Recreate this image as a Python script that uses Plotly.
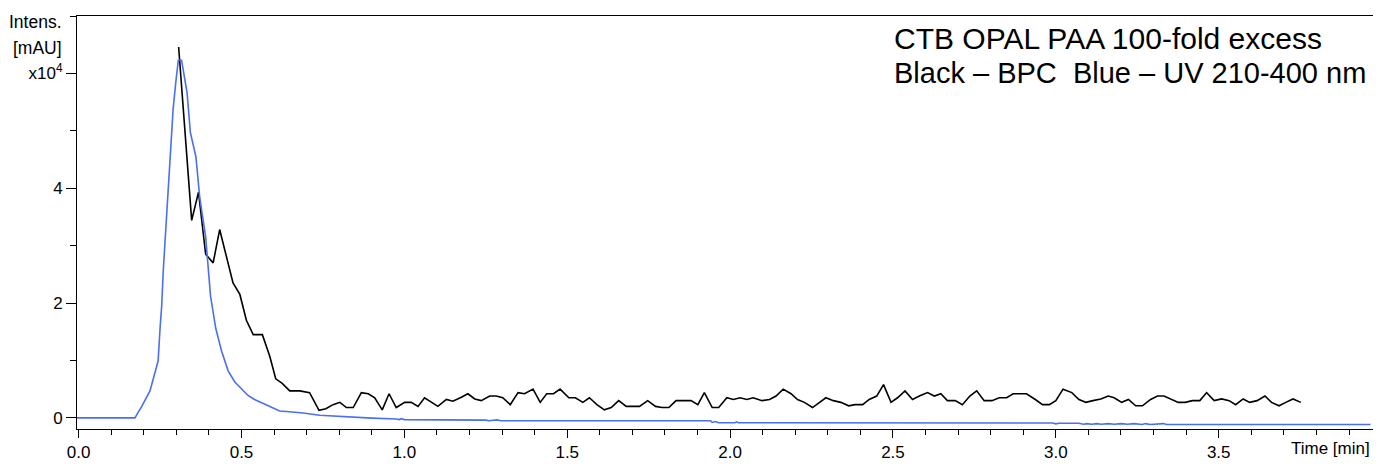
import plotly.graph_objects as go

# ---- data (time in min, intensity in x10^4 mAU) ----
bpc_time = [0.307, 0.347, 0.368, 0.390, 0.413, 0.433, 0.474, 0.495, 0.515, 0.536, 0.564, 0.587,
            0.605, 0.625, 0.648, 0.679, 0.709, 0.738, 0.759, 0.781, 0.802, 0.822, 0.843, 0.868,
            0.889, 0.909, 0.932, 0.953, 0.975, 1.001, 1.021, 1.042, 1.062, 1.083, 1.103, 1.129,
            1.149, 1.175, 1.195, 1.216, 1.236, 1.262, 1.282, 1.302, 1.325, 1.349, 1.369, 1.395,
            1.417, 1.437, 1.458, 1.478, 1.505, 1.525, 1.548, 1.568, 1.591, 1.614, 1.635, 1.658,
            1.681, 1.701, 1.722, 1.747, 1.771, 1.791, 1.812, 1.834, 1.855, 1.880, 1.901, 1.921,
            1.945, 1.965, 1.990, 2.010, 2.031, 2.051, 2.071, 2.098, 2.121, 2.141, 2.163, 2.187,
            2.207, 2.228, 2.253, 2.274, 2.294, 2.317, 2.340, 2.364, 2.384, 2.407, 2.427, 2.450,
            2.471, 2.494, 2.514, 2.537, 2.560, 2.581, 2.606, 2.627, 2.647, 2.667, 2.691, 2.713,
            2.736, 2.757, 2.780, 2.804, 2.826, 2.849, 2.869, 2.890, 2.910, 2.937, 2.959, 2.980,
            3.000, 3.022, 3.049, 3.071, 3.092, 3.114, 3.138, 3.161, 3.179, 3.202, 3.223, 3.245,
            3.266, 3.291, 3.312, 3.332, 3.353, 3.376, 3.397, 3.419, 3.442, 3.463, 3.486, 3.509,
            3.532, 3.552, 3.575, 3.595, 3.618, 3.642, 3.662, 3.685, 3.706, 3.728, 3.752]
bpc_intensity = [6.46, 3.44, 3.93, 2.85, 2.70, 3.28, 2.35, 2.15, 1.70, 1.45, 1.45, 1.07,
                 0.68, 0.60, 0.47, 0.47, 0.44, 0.13, 0.16, 0.23, 0.27, 0.18, 0.18, 0.44,
                 0.42, 0.35, 0.14, 0.42, 0.18, 0.27, 0.27, 0.20, 0.35, 0.27, 0.20, 0.32,
                 0.29, 0.36, 0.42, 0.33, 0.30, 0.38, 0.38, 0.35, 0.23, 0.44, 0.42, 0.50,
                 0.27, 0.42, 0.42, 0.50, 0.35, 0.35, 0.27, 0.35, 0.23, 0.14, 0.18, 0.30,
                 0.20, 0.20, 0.20, 0.30, 0.20, 0.18, 0.18, 0.30, 0.30, 0.30, 0.23, 0.44,
                 0.18, 0.18, 0.35, 0.32, 0.35, 0.32, 0.35, 0.30, 0.32, 0.38, 0.50, 0.42,
                 0.32, 0.27, 0.18, 0.27, 0.35, 0.30, 0.27, 0.21, 0.23, 0.23, 0.32, 0.38,
                 0.58, 0.27, 0.35, 0.47, 0.32, 0.38, 0.44, 0.38, 0.42, 0.30, 0.30, 0.23,
                 0.38, 0.47, 0.30, 0.30, 0.35, 0.35, 0.42, 0.42, 0.42, 0.32, 0.23, 0.23,
                 0.30, 0.50, 0.44, 0.32, 0.27, 0.30, 0.33, 0.38, 0.35, 0.27, 0.32, 0.21,
                 0.21, 0.32, 0.38, 0.38, 0.33, 0.27, 0.27, 0.30, 0.30, 0.44, 0.30, 0.33,
                 0.30, 0.23, 0.33, 0.27, 0.30, 0.38, 0.27, 0.21, 0.27, 0.33, 0.27]

uv_time = [-0.01, 0.173, 0.183, 0.193, 0.219, 0.234, 0.244, 0.250, 0.255, 0.260, 0.265, 0.270,
           0.275, 0.280, 0.285, 0.290, 0.298, 0.306, 0.316, 0.333, 0.343, 0.360, 0.372, 0.390,
           0.405, 0.421, 0.439, 0.459, 0.479, 0.500, 0.520, 0.540, 0.566, 0.590, 0.617, 0.638,
           0.689, 0.740, 0.781, 0.827, 0.900, 0.975, 0.985, 0.990, 1.000, 1.250, 1.260, 1.285,
           1.295, 1.940, 1.945, 1.955, 1.965, 2.015, 2.020, 2.025, 2.600, 2.990, 3.000, 3.010,
           3.070, 3.085, 3.095, 3.110, 3.125, 3.140, 3.160, 3.180, 3.200, 3.220, 3.240, 3.265,
           3.275, 3.290, 3.330, 3.340, 3.360, 3.966]
uv_intensity = [0.0, 0.0, 0.10, 0.19, 0.47, 0.76, 0.99, 1.56, 1.95, 2.58, 3.04, 3.49,
                3.95, 4.52, 5.03, 5.37, 5.83, 6.23, 6.23, 5.66, 4.97, 4.55, 3.83, 3.15,
                2.12, 1.56, 1.16, 0.82, 0.63, 0.50, 0.39, 0.32, 0.25, 0.18, 0.12, 0.11,
                0.085, 0.045, 0.03, 0.01, -0.005, -0.02, -0.03, -0.015, -0.03, -0.04, -0.05, -0.035,
                -0.05, -0.05, -0.08, -0.065, -0.085, -0.085, -0.07, -0.085, -0.09, -0.09, -0.105, -0.095,
                -0.095, -0.11, -0.10, -0.11, -0.10, -0.11, -0.10, -0.11, -0.10, -0.11, -0.10, -0.115,
                -0.10, -0.115, -0.10, -0.115, -0.115, -0.115]

x_major = [0.0, 0.5, 1.0, 1.5, 2.0, 2.5, 3.0, 3.5]
y_major = [0, 2, 4, 6]
y_labels = ["0", "2", "4", "x10<sup>4</sup>"]

FONT = "Liberation Sans, Arial, sans-serif"

fig = go.Figure()
fig.add_trace(go.Scatter(x=bpc_time, y=bpc_intensity, mode="lines",
                         line=dict(color="black", width=1.6), name="BPC"))
fig.add_trace(go.Scatter(x=uv_time, y=uv_intensity, mode="lines",
                         line=dict(color="#4a6ff0", width=1.6), name="UV 210-400 nm"))

# page body margin offsets the figure: size/margins chosen to land the plot area as in the reference
fig.update_layout(
    width=1373, height=456,
    margin=dict(l=69, r=2, t=8, b=28),
    paper_bgcolor="white", plot_bgcolor="white",
    showlegend=False,
    font=dict(family=FONT, size=17, color="black"),
)
fig.update_xaxes(
    range=[-0.005, 3.989], showgrid=False, zeroline=False,
    showline=True, linecolor="black", linewidth=1, mirror=True,
    tickmode="array", tickvals=x_major, ticktext=[f"{v:.1f}" for v in x_major],
    ticks="outside", ticklen=8, tickcolor="black", tickwidth=1,
    minor=dict(dtick=0.1, tick0=0, ticks="outside", ticklen=5, tickcolor="black"),
    tickfont=dict(size=17),
)
fig.update_yaxes(
    range=[-0.194, 7.0], showgrid=False, zeroline=False,
    showline=True, linecolor="black", linewidth=1, mirror=True,
    tickmode="array", tickvals=y_major, ticktext=y_labels,
    ticks="outside", ticklen=10, tickcolor="black", tickwidth=1,
    minor=dict(dtick=1, tick0=0, ticks="outside", ticklen=6, tickcolor="black"),
    tickfont=dict(size=17),
)

fig.add_annotation(text="Intens.", xref="paper", yref="paper", x=0, y=1,
                   xanchor="right", yanchor="middle", xshift=-13, yshift=-6,
                   font=dict(family=FONT, size=17.5, color="black"), showarrow=False)
fig.add_annotation(text="[mAU]", xref="paper", yref="paper", x=0, y=1,
                   xanchor="right", yanchor="middle", xshift=-13, yshift=-32,
                   font=dict(family=FONT, size=17.5, color="black"), showarrow=False)
fig.add_annotation(text="Time [min]", xref="paper", yref="paper", x=1, y=0,
                   xanchor="right", yanchor="top", xshift=-6, yshift=-8,
                   font=dict(family=FONT, size=17, color="black"), showarrow=False)
fig.add_annotation(text="CTB OPAL PAA 100-fold excess", xref="paper", yref="paper",
                   x=(893 - 77) / 1302, y=1, xanchor="left", yanchor="middle", yshift=-22,
                   font=dict(family=FONT, size=30, color="black"), showarrow=False)
fig.add_annotation(text="Black \u2013 BPC&nbsp; Blue \u2013 UV 210-400 nm", xref="paper", yref="paper",
                   x=(893 - 77) / 1302, y=1, xanchor="left", yanchor="middle", yshift=-57,
                   font=dict(family=FONT, size=29, color="black"), showarrow=False)

fig.write_html("out.html")
